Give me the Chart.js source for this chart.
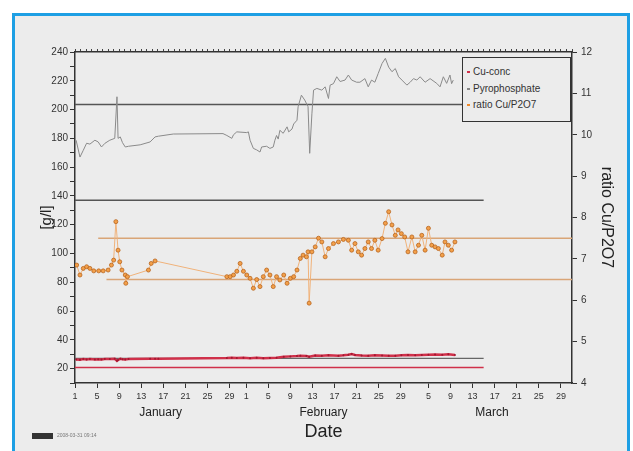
<!DOCTYPE html>
<html>
<head>
<meta charset="utf-8">
<script src="https://cdn.jsdelivr.net/npm/chart.js@4.4.1/dist/chart.umd.min.js"></script>
<style>
  html, body { margin: 0; padding: 0; background: #fff; width: 633px; height: 451px; overflow: hidden; font-family: 'Liberation Sans', Arial, sans-serif; }
  #frame { position: absolute; left: 12px; top: 13px; width: 618px; height: 470px; border: 3px solid #1d9fe4; background: #ececec; box-sizing: border-box; }
  #wrap { position: absolute; left: 0; top: 0; width: 633px; height: 451px; }
  #legend { position: absolute; left: 462px; top: 57px; width: 109px; height: 65px; border: 1px solid #333; background: #ececec; box-sizing: border-box; font-size: 10px; color: #333; padding-top: 6px; }
  #legend div { height: 16.5px; line-height: 16.5px; padding-left: 4px; white-space: nowrap; }
  #legend span { display: inline-block; width: 3px; height: 2px; margin-right: 3px; vertical-align: middle; }
  #stamp { position: absolute; left: 32px; top: 433px; width: 21px; height: 6px; background: #333; }
  #stampText { position: absolute; left: 57px; top: 432px; font-size: 5px; color: #777; }
</style>
</head>
<body>
<div id="frame"></div>
<div id="wrap"><canvas id="myChart"></canvas></div>
<div id="legend"></div>
<div id="stamp"></div>
<div id="stampText">2008-03-31 09:14</div>
<script>
// x values are days since Jan 1 (leap year, Mar 31 = day 90)
const dayTickDays = [0, 4, 8, 12, 16, 20, 24, 28, 31, 35, 39, 43, 47, 51, 55, 59, 64, 68, 72, 76, 80, 84, 88]
const dayTickLabels = ['1', '5', '9', '13', '17', '21', '25', '29', '1', '5', '9', '13', '17', '21', '25', '29', '5', '9', '13', '17', '21', '25', '29']
const monthMidDays = [15.5, 45, 75.5]
const monthNames = ['January', 'February', 'March']

const seriesNames = ['Cu-conc', 'Pyrophosphate', 'ratio Cu/P2O7']

const pyroDays = [0.2, 0.9, 1.5, 2.1, 2.7, 3.6, 4.2, 4.8, 5.4, 6.3, 7.2, 7.6, 7.8, 8.2, 8.6, 9.1, 9.7, 11.8, 13.6, 14.5,
  15.1, 17.8, 26.8, 27.5, 28.4, 28.7, 29.3, 31.1, 31.4, 31.7, 32.3, 32.9, 33.5, 33.8, 34.7, 35.3, 35.9, 36.2, 36.5, 36.8,
  37.1, 37.7, 38.4, 38.7, 39.3, 39.6, 40.2, 40.4, 41.0, 41.6, 42.2, 42.5, 42.9, 43.2, 43.8, 44.7, 45.3, 45.9, 46.2, 46.8,
  47.4, 48.0, 48.9, 49.5, 50.1, 51.0, 51.6, 52.5, 53.1, 53.7, 54.3, 54.9, 55.6, 56.2, 56.8, 57.4, 58.0, 58.6, 59.2, 60.1,
  60.7, 61.3, 61.9, 62.5, 63.4, 64.3, 65.5, 66.1, 66.7, 67.3, 67.9, 68.2, 68.5]
const pyroValues = [178.7, 167, 171.7, 176.6, 176, 178.7, 177.5, 174, 176.5, 178.7, 180, 208.9, 180, 181, 177, 174, 174.5, 175.5, 177.5, 181,
  181.5, 183, 183.3, 182, 180, 182.5, 184.5, 184, 184.5, 178.7, 173, 172, 170.5, 174, 174.5, 173, 174, 178.7, 182, 179.5,
  185.6, 183.5, 188, 184.5, 186.5, 190, 192.6, 201.9, 210, 206.6, 202, 169.6, 197, 213.5, 214.7, 213.5, 215.8, 207.7, 217, 218,
  222.8, 219.5, 220.5, 224, 220.5, 219, 219, 221.5, 215.8, 220.5, 219, 225, 232, 235.6, 229.5, 226.3, 228.5, 222.8, 220.5, 217,
  219, 221.5, 220.5, 222.8, 219, 221.5, 218.2, 215.8, 222.8, 218.2, 224, 218, 220.5]

const ratioDays = [0.3, 0.9, 1.5, 2.1, 2.7, 3.4, 4.3, 5.1, 6.0, 6.6, 7.0, 7.4, 7.8, 8.1, 8.5, 9.1, 9.2, 9.5, 13.3, 13.8,
  14.5, 27.5, 28.1, 28.7, 29.3, 29.9, 30.5, 31.1, 31.7, 32.3, 32.9, 33.5, 34.1, 34.7, 35.3, 35.9, 36.5, 37.1, 37.8, 38.4,
  39.0, 39.6, 40.2, 40.8, 41.3, 41.9, 42.2, 42.4, 42.9, 43.5, 44.1, 44.7, 45.3, 45.9, 46.8, 47.7, 48.6, 49.5, 50.1, 50.7,
  51.3, 51.9, 52.5, 53.1, 53.7, 54.3, 54.9, 55.6, 56.2, 56.8, 57.4, 58.0, 58.5, 59.1, 59.7, 60.3, 61.0, 61.6, 62.2, 62.8,
  63.4, 64.0, 64.6, 65.2, 65.8, 66.5, 67.0, 67.6, 68.2, 68.8]
const ratioValues = [6.85, 6.61, 6.77, 6.81, 6.77, 6.71, 6.71, 6.71, 6.73, 6.85, 6.97, 7.9, 7.21, 6.93, 6.73, 6.61, 6.41, 6.57, 6.73, 6.89,
  6.95, 6.57, 6.57, 6.61, 6.7, 6.89, 6.7, 6.61, 6.53, 6.29, 6.5, 6.33, 6.57, 6.73, 6.61, 6.33, 6.57, 6.49, 6.61, 6.41,
  6.53, 6.57, 6.73, 7.01, 7.09, 7.05, 7.17, 5.93, 7.17, 7.29, 7.5, 7.41, 7.05, 7.25, 7.37, 7.41, 7.47, 7.45, 7.21, 7.37,
  7.17, 7.09, 7.25, 7.41, 7.25, 7.45, 7.21, 7.49, 7.86, 8.14, 7.82, 7.57, 7.7, 7.61, 7.53, 7.17, 7.53, 7.17, 7.33, 7.57,
  7.21, 7.74, 7.33, 7.29, 7.25, 7.09, 7.41, 7.33, 7.21, 7.41]

const cuDays = [0.2, 0.9, 1.5, 2.1, 2.7, 3.6, 4.2, 4.8, 5.4, 6.3, 7.2, 7.6, 7.8, 8.2, 8.6, 9.1, 9.7, 13.6, 14.5, 15.1,
  27.5, 28.4, 29.3, 30.5, 31.7, 32.9, 34.1, 35.3, 36.5, 37.8, 39.0, 40.2, 40.8, 41.9, 42.4, 43.5, 44.7, 45.9, 47.7, 48.6,
  49.5, 50.1, 50.7, 51.9, 53.1, 54.3, 55.6, 56.8, 58.0, 59.1, 60.3, 61.6, 62.8, 64.0, 65.2, 66.5, 67.6, 68.8]
const cuValues = [26.4, 26.1, 26.6, 26.4, 26.6, 26.3, 26.5, 26.4, 26.6, 26.7, 26.8, 25.4, 26.0, 26.8, 26.5, 26.4, 26.6, 26.8, 26.9, 26.8,
  27.3, 27.5, 27.3, 27.5, 27.2, 27.5, 27.2, 27.3, 27.5, 28.2, 28.5, 28.7, 29.0, 28.8, 28.2, 29.1, 28.9, 29.2, 29.0, 29.3,
  29.7, 30.2, 29.5, 29.1, 29.0, 29.3, 29.1, 29.0, 28.9, 29.2, 29.4, 29.3, 29.5, 29.6, 29.8, 29.6, 29.9, 29.5]

// control limits
const limitDays = [0, 74]
const pyroLimits = [137, 203.5]
const cuLimits = [20.8, 27.1]
const ratioLimitDays = [[4.2, 90], [5.7, 90]]
const ratioLimits = [7.5, 6.5]

const pts = (xs, ys) => xs.map((x, i) => ({ x: x, y: ys[i] }))
const flat = (xs, v) => xs.map((x) => ({ x: x, y: v }))

function limitSet(xs, v, color, axis, width) {
  return {
    data: flat(xs, v),
    yAxisID: axis,
    borderColor: color,
    borderWidth: width,
    pointRadius: 0,
    order: 5
  }
}

const legendEl = document.getElementById('legend')
const legendColors = ['#d0304a', '#888', '#ef8a2c']
seriesNames.forEach((name, i) => {
  const row = document.createElement('div')
  row.innerHTML = `<span style="background:${legendColors[i]}"></span>${name}`
  legendEl.appendChild(row)
})

const fontFamily = "'Liberation Sans', Arial, sans-serif"
const font9 = { family: fontFamily, size: 9 }
const font10 = { family: fontFamily, size: 10 }

const datasets = [
  {
    label: seriesNames[0],
    data: pts(cuDays, cuValues),
    yAxisID: 'y',
    borderColor: '#d0304a',
    borderWidth: 2.5,
    pointRadius: 1,
    pointBackgroundColor: '#a01830',
    pointBorderWidth: 0,
    order: 1
  },
  {
    label: seriesNames[1],
    data: pts(pyroDays, pyroValues),
    yAxisID: 'y',
    borderColor: '#8a8a8a',
    borderWidth: 1,
    pointRadius: 0,
    order: 2
  },
  {
    label: seriesNames[2],
    data: pts(ratioDays, ratioValues),
    yAxisID: 'yRight',
    borderColor: '#f0b27a',
    borderWidth: 1,
    pointRadius: 2,
    pointBackgroundColor: '#f3a04a',
    pointBorderColor: '#b8641e',
    pointBorderWidth: 0.8,
    order: 0
  }
]
pyroLimits.forEach((v) => datasets.push(limitSet(limitDays, v, '#555', 'y', 1.5)))
datasets.push(limitSet(limitDays, cuLimits[0], '#d0304a', 'y', 1.5))
datasets.push(limitSet(limitDays, cuLimits[1], '#666', 'y', 1.2))
ratioLimits.forEach((v, i) => datasets.push(limitSet(ratioLimitDays[i], v, '#d9a577', 'yRight', 1.5)))

const axisBorder = { color: '#333', width: 1.5 }
const outerGrid = { drawOnChartArea: false, color: '#333', tickLength: 5, tickWidth: 1 }

const config = {
  type: 'line',
  data: { datasets: datasets },
  options: {
    responsive: true,
    maintainAspectRatio: false,
    animation: false,
    layout: { padding: 0 },
    elements: { line: { tension: 0 } },
    plugins: { legend: { display: false }, tooltip: { enabled: false } },
    scales: {
      x: {
        type: 'linear',
        position: 'bottom',
        min: 0,
        max: 90,
        border: axisBorder,
        grid: outerGrid,
        afterBuildTicks: (s) => { s.ticks = dayTickDays.map((d) => ({ value: d })) },
        afterFit: (s) => { s.height = 20 },
        ticks: {
          autoSkip: false,
          maxRotation: 0,
          padding: 3,
          color: '#333',
          font: font9,
          callback: (v, i) => dayTickLabels[i]
        }
      },
      xMonth: {
        type: 'linear',
        position: 'bottom',
        weight: 1,
        min: 0,
        max: 90,
        grid: { display: false, drawTicks: false },
        border: { display: false },
        afterBuildTicks: (s) => { s.ticks = monthMidDays.map((d) => ({ value: d })) },
        afterFit: (s) => { s.height = 48 },
        ticks: {
          autoSkip: false,
          maxRotation: 0,
          padding: 2,
          color: '#222',
          font: { family: fontFamily, size: 12 },
          callback: (v, i) => monthNames[i]
        },
        title: {
          display: true,
          text: 'Date',
          color: '#222',
          font: { family: fontFamily, size: 18 },
          padding: { top: 0, bottom: 8 }
        }
      },
      xTop: {
        type: 'linear',
        position: 'top',
        min: 0,
        max: 90,
        border: axisBorder,
        grid: { drawOnChartArea: false, color: '#444', tickLength: 3, tickWidth: 1 },
        afterBuildTicks: (s) => {
          const t = []
          for (let d = 0; d <= 90; d++) t.push({ value: d })
          s.ticks = t
        },
        afterFit: (s) => { s.height = 52 },
        ticks: { display: false }
      },
      y: {
        type: 'linear',
        position: 'left',
        min: 10,
        max: 240,
        border: axisBorder,
        grid: outerGrid,
        afterFit: (s) => { s.width = 75 },
        ticks: {
          stepSize: 10,
          autoSkip: false,
          padding: 2,
          color: '#333',
          font: font10,
          callback: (v) => {
            const r = Math.round(v)
            return r % 20 === 0 ? String(r) : ''
          }
        },
        title: {
          display: true,
          text: '[g/l]',
          color: '#222',
          font: { family: fontFamily, size: 15 },
          padding: { top: 38, bottom: 0 }
        }
      },
      yRight: {
        type: 'linear',
        position: 'right',
        min: 4,
        max: 12,
        border: axisBorder,
        grid: outerGrid,
        afterFit: (s) => { s.width = 61 },
        ticks: {
          stepSize: 1,
          autoSkip: false,
          padding: 4,
          color: '#333',
          font: font10
        },
        title: {
          display: true,
          text: 'ratio Cu/P2O7',
          color: '#222',
          font: { family: fontFamily, size: 16 },
          padding: { top: 17, bottom: 0 }
        }
      }
    }
  }
}

// eslint-disable-next-line no-undef
const chart = new Chart(document.getElementById('myChart'), config)
</script>
</body>
</html>
